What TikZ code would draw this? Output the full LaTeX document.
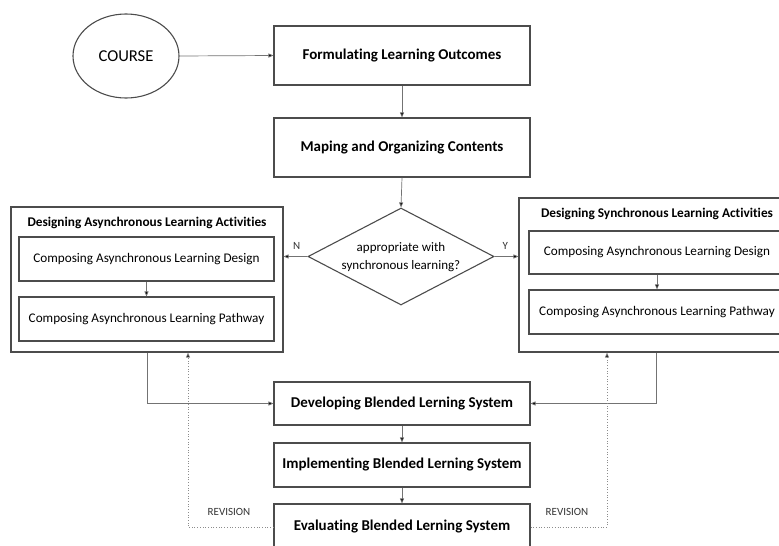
\documentclass[tikz,border=0pt]{standalone}
\usepackage{fontspec}
\setmainfont{Carlito}[Ligatures=NoCommon]
\usetikzlibrary{shapes.geometric,arrows.meta}
\begin{document}
\begin{tikzpicture}[x=1pt,y=-1pt,
  box/.style={draw=black!70,line width=1.1pt,rectangle,inner sep=0pt,font=\fontsize{15}{17}\selectfont\bfseries},
  ibox/.style={draw=black!70,line width=1.1pt,rectangle,inner sep=0pt,font=\fontsize{13.2}{15}\selectfont},
  grp/.style={draw=black!70,line width=1.1pt,rectangle,inner sep=0pt},
  ttl/.style={font=\fontsize{13.3}{15}\selectfont\bfseries,inner sep=0pt},
  conn/.style={draw=black!55,line width=0.7pt,-{Triangle[length=5pt,width=4pt,fill=black]}},
  rev/.style={draw=black!45,line width=0.7pt,dotted,-{Triangle[length=5pt,width=4pt,fill=black]}},
  lbl/.style={font=\fontsize{11}{13}\selectfont,inner sep=0pt,text=black!80}]
\useasboundingbox (0,0) rectangle (779,546);
\begin{scope}
\clip (0,0) rectangle (779,546);
\node[draw=black!70,line width=1.1pt,ellipse,minimum width=106pt,minimum height=84pt,inner sep=0pt,font=\fontsize{16.6}{18}\selectfont] (course) at (126,56) {COURSE};
\node[box,minimum width=256pt,minimum height=59pt] (form) at (402,55.5) {Formulating Learning Outcomes};
\node[box,minimum width=256pt,minimum height=59pt] (map) at (402,147.5) {Maping and Organizing Contents};
\node[draw=black!70,line width=1.1pt,diamond,minimum width=186pt,minimum height=97pt,inner sep=0pt] (dia) at (401,256.5) {};
\node[align=center,inner sep=0pt,font=\fontsize{13}{18}\selectfont] (diat) at (401,257) {appropriate with\\synchronous learning?};
\node[grp,minimum width=272pt,minimum height=145pt] (lg) at (147,279.5) {};
\node[ttl] (lt) at (147,223) {Designing Asynchronous Learning Activities};
\node[ibox,minimum width=255pt,minimum height=44pt] (la1) at (146.5,259) {Composing Asynchronous Learning Design};
\node[ibox,minimum width=255pt,minimum height=44pt] (la2) at (146.5,319) {Composing Asynchronous Learning Pathway};
\node[grp,minimum width=276pt,minimum height=154pt] (rg) at (657,275) {};
\node[ttl] (rt) at (657,214) {Designing Synchronous Learning Activities};
\node[ibox,minimum width=256pt,minimum height=43pt] (ra1) at (657,252.5) {Composing Asynchronous Learning Design};
\node[ibox,minimum width=256pt,minimum height=44pt] (ra2) at (657,312) {Composing Asynchronous Learning Pathway};
\node[box,minimum width=256pt,minimum height=43pt] (dev) at (402,403.5) {Developing Blended Lerning System};
\node[box,minimum width=256pt,minimum height=44pt] (imp) at (402,465) {Implementing Blended Lerning System};
\node[box,minimum width=256pt,minimum height=46pt] (eval) at (402,527) {Evaluating Blended Lerning System};
\draw[conn] (course.east) -- (form.west);
\draw[conn] (form.south) -- (map.north);
\draw[conn] (map.south) -- (dia.north);
\draw[conn] (dia.west) -- node[lbl,above=7pt,pos=0.45] (nl) {N} (lg.east |- dia.west);
\draw[conn] (dia.east) -- node[lbl,above=7pt,pos=0.45] (yl) {Y} (rg.west |- dia.east);
\draw[conn] (la1.south) -- (la2.north);
\draw[conn] (ra1.south) -- (ra2.north);
\draw[conn] (lg.south) |- (dev.west);
\draw[conn] ([xshift=-1pt]rg.south) |- (dev.east);
\draw[conn] (dev.south) -- (imp.north);
\draw[conn] (imp.south) -- (eval.north);
\draw[rev] (eval.west) -| ([xshift=41pt]lg.south);
\draw[rev] (eval.east) -| ([xshift=-50pt]rg.south);
\node[lbl] (r1) at (229,512) {REVISION};
\node[lbl] (r2) at (567,512) {REVISION};
\end{scope}
\end{tikzpicture}
\end{document}
